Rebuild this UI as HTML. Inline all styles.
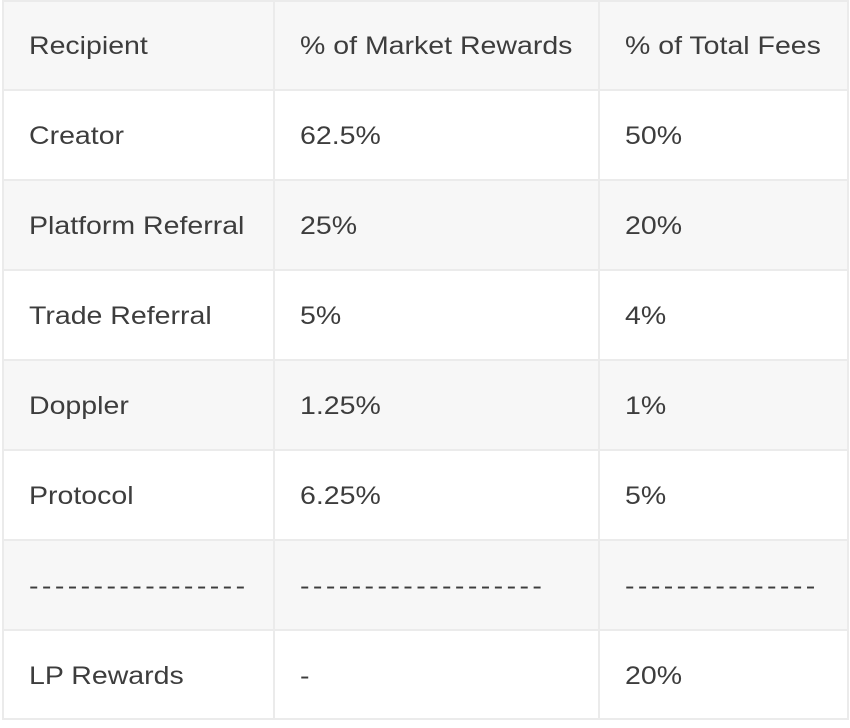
<!DOCTYPE html>
<html><head><style>
body{margin:0;width:850px;height:728px;background:#fff;position:relative;overflow:hidden;font-family:"Liberation Sans",sans-serif;}
.r{position:absolute;left:3px;width:846px;height:90px;}
.g{background:#f7f7f7;}
.h{position:absolute;left:3px;width:846px;height:2px;background:#ebebeb;}
.v{position:absolute;top:0;width:2px;height:720px;background:#ebebeb;}
.t{position:absolute;font-size:25px;color:#3d3d3d;line-height:28px;white-space:nowrap;transform:scaleX(1.14);transform-origin:0 0;}
.d{letter-spacing:3px;}
</style></head><body>
<div class="r g" style="top:0"></div>
<div class="r g" style="top:180px"></div>
<div class="r g" style="top:360px"></div>
<div class="r g" style="top:540px"></div>
<div class="h" style="top:0"></div>
<div class="h" style="top:89px"></div>
<div class="h" style="top:179px"></div>
<div class="h" style="top:269px"></div>
<div class="h" style="top:359px"></div>
<div class="h" style="top:449px"></div>
<div class="h" style="top:539px"></div>
<div class="h" style="top:629px"></div>
<div class="h" style="top:718px"></div>
<div class="v" style="left:2px"></div>
<div class="v" style="left:273px"></div>
<div class="v" style="left:598px"></div>
<div class="v" style="left:847px"></div>

<div class="t" style="left:29px;top:32px">Recipient</div>
<div class="t" style="left:300px;top:32px">% of Market Rewards</div>
<div class="t" style="left:625px;top:32px">% of Total Fees</div>

<div class="t" style="left:29px;top:122px">Creator</div>
<div class="t" style="left:300px;top:122px">62.5%</div>
<div class="t" style="left:625px;top:122px">50%</div>

<div class="t" style="left:29px;top:212px">Platform Referral</div>
<div class="t" style="left:300px;top:212px">25%</div>
<div class="t" style="left:625px;top:212px">20%</div>

<div class="t" style="left:29px;top:302px">Trade Referral</div>
<div class="t" style="left:300px;top:302px">5%</div>
<div class="t" style="left:625px;top:302px">4%</div>

<div class="t" style="left:29px;top:392px">Doppler</div>
<div class="t" style="left:300px;top:392px">1.25%</div>
<div class="t" style="left:625px;top:392px">1%</div>

<div class="t" style="left:29px;top:482px">Protocol</div>
<div class="t" style="left:300px;top:482px">6.25%</div>
<div class="t" style="left:625px;top:482px">5%</div>

<div class="t d" style="left:29px;top:572px">-----------------</div>
<div class="t d" style="left:300px;top:572px">-------------------</div>
<div class="t d" style="left:625px;top:572px">---------------</div>

<div class="t" style="left:29px;top:662px">LP Rewards</div>
<div class="t" style="left:300px;top:662px">-</div>
<div class="t" style="left:625px;top:662px">20%</div>
</body></html>
